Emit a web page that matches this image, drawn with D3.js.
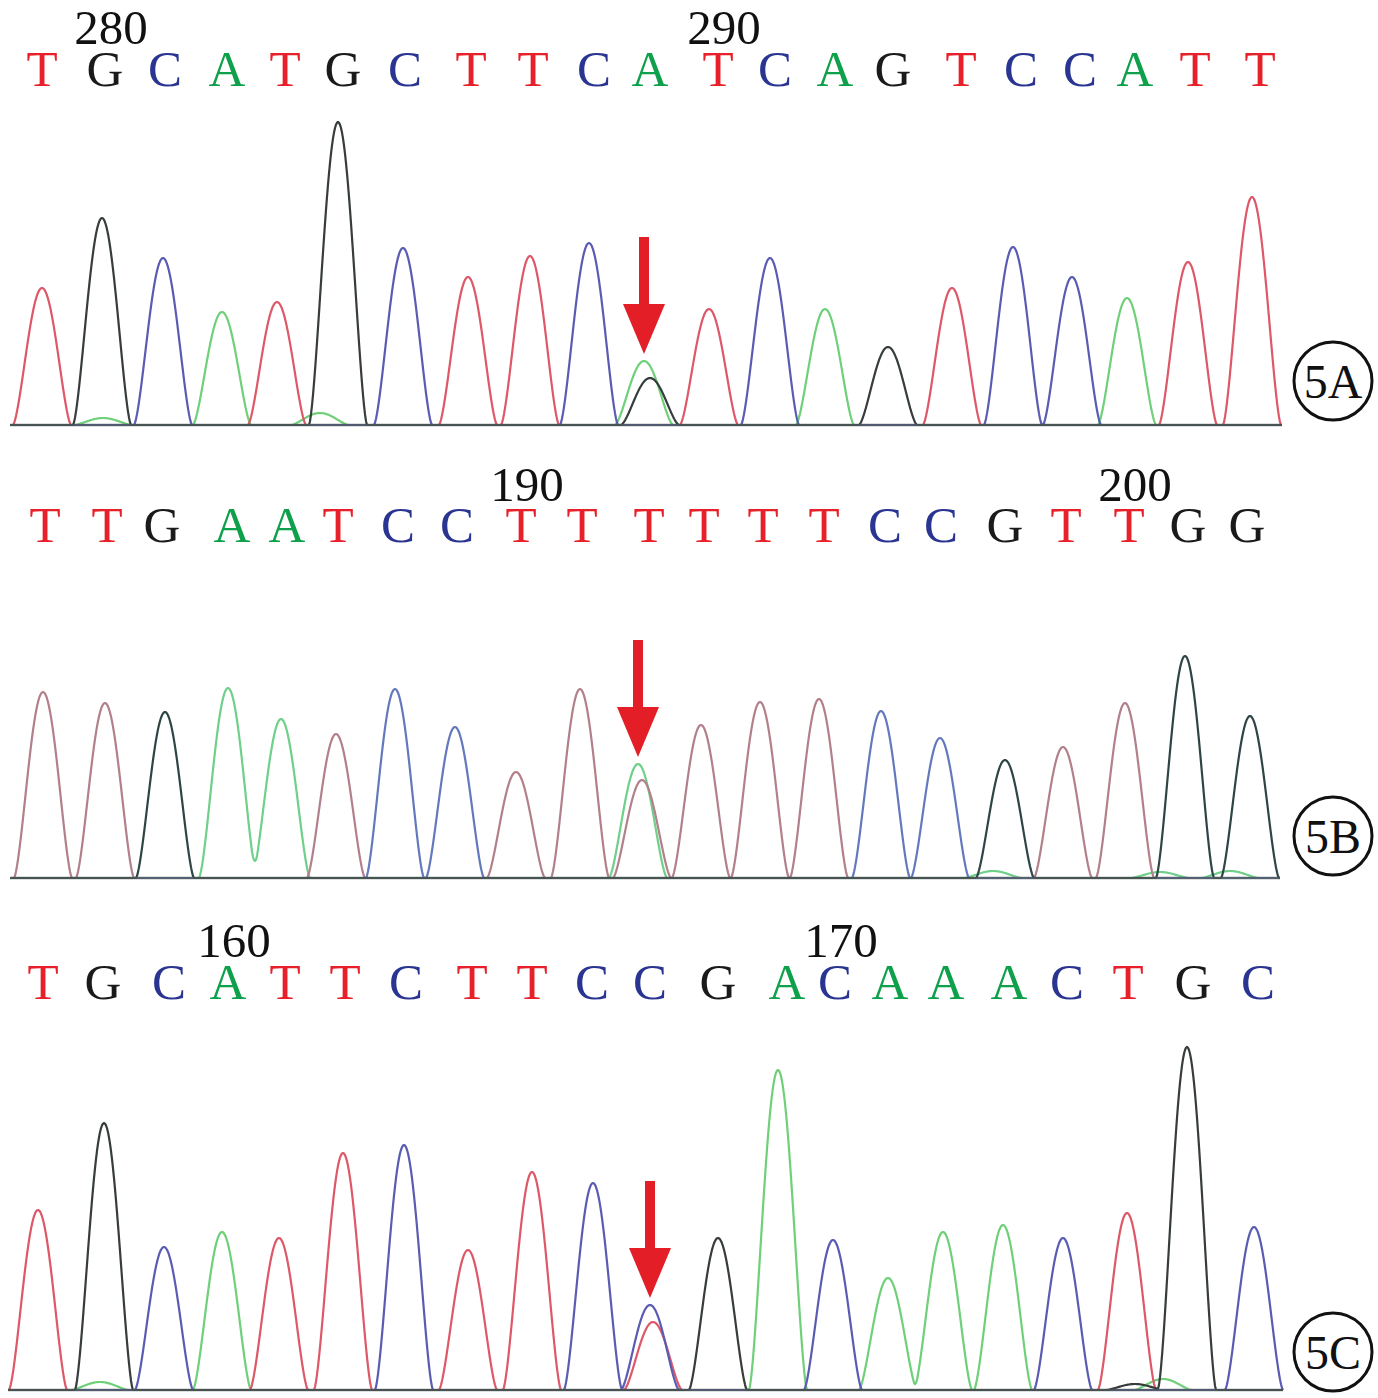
<!DOCTYPE html>
<html><head><meta charset="utf-8">
<script src="https://cdn.jsdelivr.net/npm/d3@7"></script>
<style>body{margin:0;background:#fff}</style>
</head><body>
<svg id="chart" width="1378" height="1398"></svg>
<script>
// ---------- DATA ----------
// Panel 5A
const basesA   = ["T","G","C","A","T","G","C","T","T","C","A","T","C","A","G","T","C","C","A","T","T"];
const baseXA   = [42,105,165,227,285,343,405,471,533,594,650,718,775,835,893,961,1021,1080,1135,1195,1260];
const tickIdxA = [1, 11];
const tickLblA = ["280","290"];
const peakXA    = [42,102,163,222,277,338,403,468,530,589,644,650,709,770,825,888,952,1013,1072,1127,1188,1252, 103,320];
const peakBaseA = ["T","G","C","A","T","G","C","T","T","C","A","G","T","C","A","G","T","C","C","A","T","T", "A","A"];
const peakHA    = [137,207,167,113,123,303,177,148,169,182,64,47,116,167,116,78,137,178,148,127,163,228, 7,12];
const arrowPeakA = 10;

// Panel 5B
const basesB   = ["T","T","G","A","A","T","C","C","T","T","T","T","T","T","C","C","G","T","T","G","G"];
const baseXB   = [45,107,162,232,287,338,398,457,521,582,649,704,763,824,885,941,1005,1066,1129,1188,1247];
const tickIdxB = [8, 18];
const tickLblB = ["190","200"];
const peakXB    = [43,105,165,228,281,336,395,455,516,580,638,642,701,760,819,881,940,1005,1063,1125,1185,1250, 993,1160,1230];
const peakBaseB = ["T","T","G","A","A","T","C","C","T","T","A","T","T","T","T","C","C","G","T","T","G","G", "A","A","A"];
const peakHB    = [186,175,166,190,159,144,189,151,106,189,114,98,153,176,179,167,140,118,131,175,222,162, 7,6,7];
const arrowPeakB = 10;

// Panel 5C
const basesC   = ["T","G","C","A","T","T","C","T","T","C","C","G","A","C","A","A","A","C","T","G","C"];
const baseXC   = [43,103,169,228,285,345,406,472,532,592,650,718,787,835,890,946,1009,1067,1128,1193,1258];
const tickIdxC = [3, 13];
const tickLblC = ["160","170"];
const peakXC    = [38,104,164,222,279,343,404,468,532,593,650,653,718,778,833,888,943,1003,1063,1127,1187,1254, 100,1163,1135];
const peakBaseC = ["T","G","C","A","T","T","C","T","T","C","C","T","G","A","C","A","A","A","C","T","G","C", "A","A","G"];
const peakHC    = [180,267,143,158,152,237,245,140,218,207,85,68,152,320,150,112,158,165,152,177,343,163, 8,11,6];
const arrowPeakC = 10;

const panelLabels = ["5A","5B","5C"];

// ---------- STYLE / LAYOUT ----------
const letterColor = {T:"#e8202a", G:"#1a1a1a", C:"#2a3592", A:"#0ea04b"};
const traceColorStd = {T:"#dd5868", G:"#373c3c", C:"#5a5cb3", A:"#70d07a"};
const traceColorB   = {T:"#b2808a", G:"#2f4545", C:"#6479bd", A:"#6fd08a"};
const layout = [
  {numY:44,  letY:86,  base:425,  x0:10, x1:1282, cy:381},
  {numY:501, letY:542, base:878,  x0:10, x1:1280, cy:836},
  {numY:957, letY:999, base:1390, x0:8,  x1:1283, cy:1352}
];
const HALF_W = 29;

const panels = [
  {bases:basesA, baseX:baseXA, tickIdx:tickIdxA, tickLbl:tickLblA, px:peakXA, pb:peakBaseA, ph:peakHA, arrow:arrowPeakA, colors:traceColorStd},
  {bases:basesB, baseX:baseXB, tickIdx:tickIdxB, tickLbl:tickLblB, px:peakXB, pb:peakBaseB, ph:peakHB, arrow:arrowPeakB, colors:traceColorB},
  {bases:basesC, baseX:baseXC, tickIdx:tickIdxC, tickLbl:tickLblC, px:peakXC, pb:peakBaseC, ph:peakHC, arrow:arrowPeakC, colors:traceColorStd}
];

const svg = d3.select("#chart");
const x = d3.scaleLinear().domain([0,1378]).range([0,1378]);
const font = "'Liberation Serif', 'Times New Roman', serif";

panels.forEach((p, i) => {
  const L = layout[i];
  const y = d3.scaleLinear().domain([0,350]).range([L.base, L.base-350]);
  const g = svg.append("g");
  const peaks = p.px.map((px, k) => ({x:px, b:p.pb[k], h:p.ph[k]}));

  // traces
  const channels = ["A","T","C","G"];
  const line = d3.line().x(d => x(d[0])).y(d => y(d[1]));
  channels.forEach(ch => {
    const pts = [];
    for (let xv = L.x0; xv <= L.x1; xv += 1) {
      let v = 0;
      peaks.forEach(pk => {
        if (pk.b !== ch) return;
        const d = Math.abs(xv - pk.x);
        if (d < HALF_W) v += pk.h * Math.pow(Math.cos(Math.PI * d / (2*HALF_W)), 1.5);
      });
      pts.push([xv, v]);
    }
    g.append("path").attr("d", line(pts)).attr("fill","none")
      .attr("stroke", p.colors[ch]).attr("stroke-width", 2.2).attr("stroke-linejoin","round");
  });
  // baseline band
  g.append("line").attr("x1", x(L.x0)).attr("x2", x(L.x1)).attr("y1", y(0)).attr("y2", y(0))
    .attr("stroke", "#4e5a5a").attr("stroke-width", 2.5).attr("opacity", 0.75);

  // base letters
  g.selectAll("text.base").data(p.bases).join("text").attr("class","base")
    .attr("x", (d,k) => x(p.baseX[k])).attr("y", L.letY)
    .attr("text-anchor","middle").attr("font-family", font).attr("font-size", 51)
    .attr("fill", d => letterColor[d]).text(d => d);

  // position numbers
  g.selectAll("text.num").data(p.tickLbl).join("text").attr("class","num")
    .attr("x", (d,k) => x(p.baseX[p.tickIdx[k]] + 6)).attr("y", L.numY)
    .attr("text-anchor","middle").attr("font-family", font).attr("font-size", 49)
    .attr("fill", "#111").text(d => d);

  // arrow
  const ap = peaks[p.arrow];
  const ax = x(ap.x);
  const tip = y(ap.h) - 7;
  const headLen = 50, headHalf = 21, shaftHalf = 5, total = 117;
  const top = tip - total;
  g.append("path")
    .attr("d", `M${ax-shaftHalf},${top} L${ax+shaftHalf},${top} L${ax+shaftHalf},${tip-headLen} L${ax+headHalf},${tip-headLen} L${ax},${tip} L${ax-headHalf},${tip-headLen} L${ax-shaftHalf},${tip-headLen} Z`)
    .attr("fill", "#e41e26");

  // circled label
  g.append("circle").attr("cx", 1333).attr("cy", L.cy).attr("r", 39)
    .attr("fill","none").attr("stroke","#111").attr("stroke-width", 3);
  g.append("text").attr("x", 1333).attr("y", L.cy + 17).attr("text-anchor","middle")
    .attr("font-family", font).attr("font-size", 48).attr("fill","#111").text(panelLabels[i]);
});
</script>
</body></html>
